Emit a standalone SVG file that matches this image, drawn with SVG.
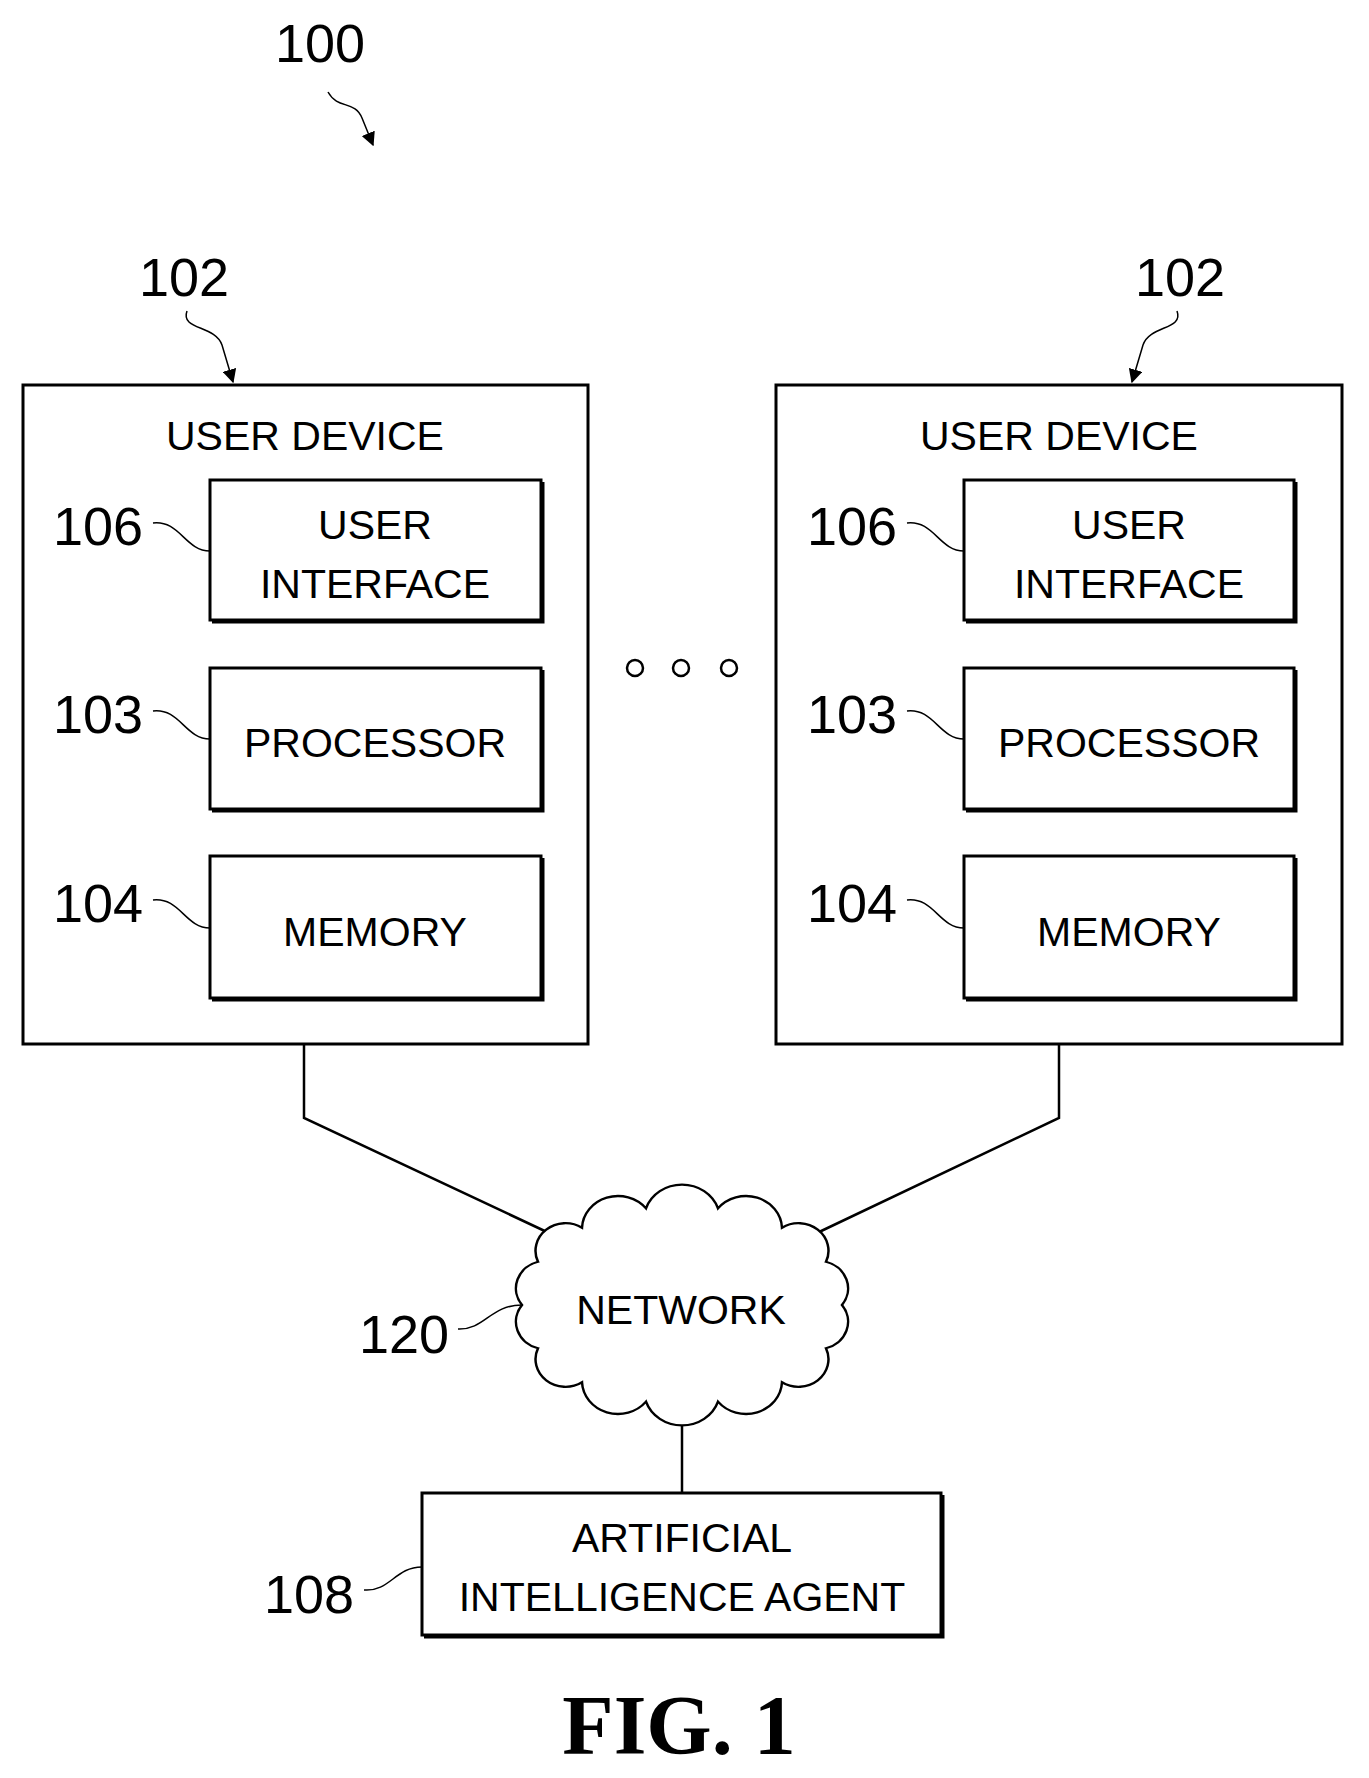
<svg xmlns="http://www.w3.org/2000/svg" width="1369" height="1778" viewBox="0 0 1369 1778">
<defs>
<marker id="ah" viewBox="0 0 10 10" refX="9" refY="5" markerWidth="11" markerHeight="11" markerUnits="userSpaceOnUse" orient="auto"><path d="M0,0 L10,5 L0,10 z" fill="#000"/></marker>
<marker id="ah2" viewBox="0 0 10 10" refX="9" refY="5" markerWidth="14" markerHeight="14" orient="auto" markerUnits="userSpaceOnUse"><path d="M0,0 L10,5 L0,10 z" fill="#000"/></marker>
</defs>
<style>
.t{font-family:"Liberation Sans",Arial,sans-serif;fill:#000;text-anchor:middle}
.b{font-size:41px}
.n{font-size:54px}
.box{fill:#fff;stroke:#000;stroke-width:3}
.sh{fill:none;stroke:#000;stroke-width:3}
.ln{fill:none;stroke:#000;stroke-width:2.5}
.ld{fill:none;stroke:#000;stroke-width:1.5}
</style>
<rect width="1369" height="1778" fill="#fff"/>
<text class="t n" x="320" y="62">100</text>
<path class="ld" d="M328,92 C338,110 355,100 362,118 L373,145" marker-end="url(#ah2)" stroke-width="2"/>
<g id="connectors">
<line class="ln" x1="376" y1="620" x2="376" y2="668"/>
<line class="ln" x1="376" y1="809" x2="376" y2="856"/>
<line class="ln" x1="1129" y1="620" x2="1129" y2="668"/>
<line class="ln" x1="1129" y1="809" x2="1129" y2="856"/>
<polyline class="ln" points="304,1044 304,1118 549,1233"/>
<polyline class="ln" points="1059,1044 1059,1118 817,1233"/>
<line class="ln" x1="682" y1="1415" x2="682" y2="1493"/>
</g>
<g id="dev-left">
<text class="t n" x="184" y="296">102</text>
<path class="ld" d="M187,311 C180,330 215,325 222,345 L233,382" marker-end="url(#ah2)" stroke-width="2"/>
<rect class="box" x="23" y="385" width="565" height="659"/>
<text class="t b" x="305" y="450">USER DEVICE</text>
<g id="ui-left"><rect class="box" x="210" y="480" width="331" height="140"/><path class="sh" d="M543,482 V622 H212"/>
<text class="t b" x="375" y="539">USER</text><text class="t b" x="375" y="598">INTERFACE</text>
<text class="t n" x="98" y="545">106</text><path class="ld" d="M153,523 C180,520 185,551 210,551"/></g>
<g id="proc-left"><rect class="box" x="210" y="668" width="331" height="141"/><path class="sh" d="M543,670 V811 H212"/>
<text class="t b" x="375" y="757">PROCESSOR</text>
<text class="t n" x="98" y="733">103</text><path class="ld" d="M153,711 C180,708 185,739 210,739"/></g>
<g id="mem-left"><rect class="box" x="210" y="856" width="331" height="142"/><path class="sh" d="M543,858 V1000 H212"/>
<text class="t b" x="375" y="946">MEMORY</text>
<text class="t n" x="98" y="922">104</text><path class="ld" d="M153,900 C180,897 185,928 210,928"/></g>
</g>
<g id="dots"><circle cx="635" cy="668" r="8" fill="none" stroke="#000" stroke-width="2.5"/><circle cx="681" cy="668" r="8" fill="none" stroke="#000" stroke-width="2.5"/><circle cx="729" cy="668" r="8" fill="none" stroke="#000" stroke-width="2.5"/></g>
<g id="dev-right">
<text class="t n" x="1180" y="296">102</text>
<path class="ld" d="M1177,311 C1184,330 1150,325 1143,345 L1132,382" marker-end="url(#ah2)" stroke-width="2"/>
<rect class="box" x="776" y="385" width="566" height="659"/>
<text class="t b" x="1059" y="450">USER DEVICE</text>
<g id="ui-right"><rect class="box" x="964" y="480" width="330" height="140"/><path class="sh" d="M1296,482 V622 H966"/>
<text class="t b" x="1129" y="539">USER</text><text class="t b" x="1129" y="598">INTERFACE</text>
<text class="t n" x="852" y="545">106</text><path class="ld" d="M907,523 C934,520 939,551 964,551"/></g>
<g id="proc-right"><rect class="box" x="964" y="668" width="330" height="141"/><path class="sh" d="M1296,670 V811 H966"/>
<text class="t b" x="1129" y="757">PROCESSOR</text>
<text class="t n" x="852" y="733">103</text><path class="ld" d="M907,711 C934,708 939,739 964,739"/></g>
<g id="mem-right"><rect class="box" x="964" y="856" width="330" height="142"/><path class="sh" d="M1296,858 V1000 H966"/>
<text class="t b" x="1129" y="946">MEMORY</text>
<text class="t n" x="852" y="922">104</text><path class="ld" d="M907,900 C934,897 939,928 964,928"/></g>
</g>
<g id="network">
<path fill="#fff" stroke="#000" stroke-width="2.5" transform="translate(682,1305) scale(1,0.92) translate(-682,-1303)" d="M842,1303 A30,30 0 0 1 826,1350 A30,30 0 0 1 782,1387 A36,36 0 0 1 718,1408 A38,38 0 0 1 646,1408 A36,36 0 0 1 582,1387 A30,30 0 0 1 538,1350 A30,30 0 0 1 522,1303 A30,30 0 0 1 538,1256 A30,30 0 0 1 582,1219 A36,36 0 0 1 646,1198 A38,38 0 0 1 718,1198 A36,36 0 0 1 782,1219 A30,30 0 0 1 826,1256 A30,30 0 0 1 842,1303 Z"/>
<text class="t b" x="681" y="1324">NETWORK</text>
<text class="t n" x="404" y="1353">120</text><path class="ld" d="M458,1329 C485,1330 490,1305 522,1305"/>
</g>
<g id="ai">
<rect class="box" x="422" y="1493" width="519" height="142"/><path class="sh" d="M943,1495 V1637 H424"/>
<text class="t b" x="682" y="1552">ARTIFICIAL</text><text class="t b" x="682" y="1611">INTELLIGENCE AGENT</text>
<text class="t n" x="309" y="1613">108</text><path class="ld" d="M364,1590 C390,1592 395,1567 422,1567"/>
</g>
<text x="679" y="1754" font-family="Liberation Serif,serif" font-weight="bold" font-size="84" text-anchor="middle">FIG. 1</text>
</svg>
